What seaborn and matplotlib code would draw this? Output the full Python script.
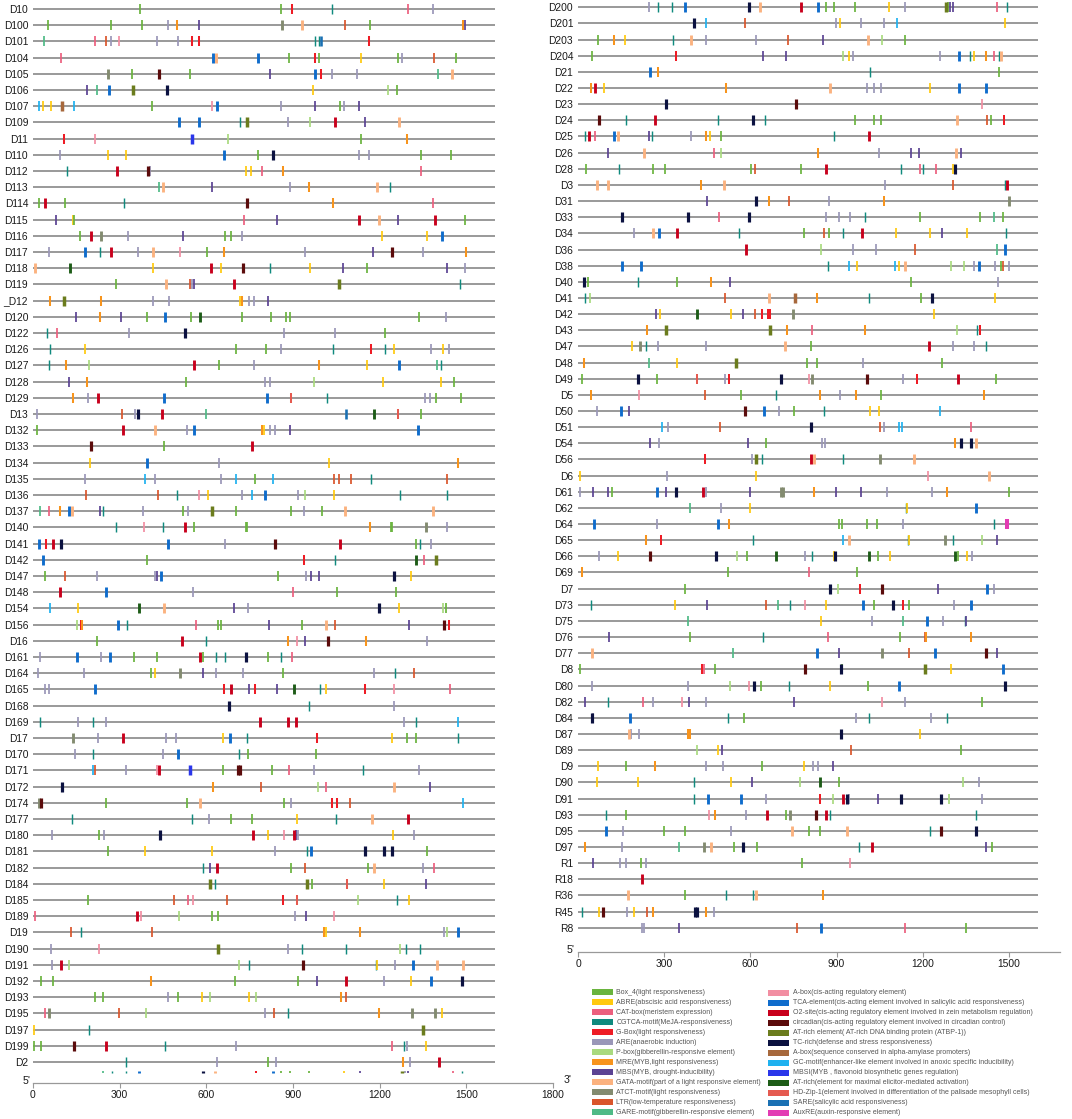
import numpy as np
import pandas as pd
import seaborn as sns
import matplotlib.pyplot as plt
from matplotlib.patches import Rectangle

# cis-element types (legend order: first 13 left column, rest right column)
motif_codes = ["B4", "ABRE", "CAT", "CGT", "GB", "ARE", "PB", "MRE", "MBS", "GATA", "ATCT", "LTR", "GARE",
               "AB1", "TCA", "O2", "CIRC", "ATRE", "TC", "AB2", "GC", "MBSI", "ATR", "HD", "SARE", "AUX"]
motif_names = [
    "Box_4(light responsiveness)",
    "ABRE(abscisic acid responsiveness)",
    "CAT-box(meristem expression)",
    "CGTCA-motif(MeJA-responsiveness)",
    "G-Box(light responsiveness)",
    "ARE(anaerobic induction)",
    "P-box(gibberellin-responsive element)",
    "MRE(MYB,light responsiveness)",
    "MBS(MYB, drought-inducibility)",
    "GATA-motif(part of a light responsive element)",
    "ATCT-motif(light responsiveness)",
    "LTR(low-temperature responsiveness)",
    "GARE-motif(gibberellin-responsive element)",
    "A-box(cis-acting regulatory element)",
    "TCA-element(cis-acting element involved in salicylic acid responsiveness)",
    "O2-site(cis-acting regulatory element involved in zein metabolism regulation)",
    "circadian(cis-acting regulatory element involved in circadian control)",
    "AT-rich element( AT-rich DNA binding protein (ATBP-1))",
    "TC-rich(defense and stress responsiveness)",
    "A-box(sequence conserved in alpha-amylase promoters)",
    "GC-motif(enhancer-like element involved in anoxic specific inducibility)",
    "MBSI(MYB , flavonoid biosynthetic genes regulation)",
    "AT-rich(element for maximal elicitor-mediated activation)",
    "HD-Zip-1(element involved in differentiation of the palisade mesophyll cells)",
    "SARE(salicylic acid responsiveness)",
    "AuxRE(auxin-responsive element)",
]
motif_colors = ["#6ab43e", "#ffc90e", "#ec5f7e", "#0f8a7e", "#ee1c25", "#9a97b8", "#a9da7f", "#f7941d",
                "#5b4393", "#fbb27f", "#838b70", "#d9552b", "#4fba86", "#f28ea2", "#0f6ccc", "#c8001c",
                "#5b0b0b", "#6b7c1d", "#0b1140", "#a7683c", "#1fb1ef", "#2a36ea", "#1d5c17", "#e55a50",
                "#1a70b3", "#e33bb3"]

left_genes = ["D10", "D100", "D101", "D104", "D105", "D106", "D107", "D109", "D11", "D110", "D112", "D113",
              "D114", "D115", "D116", "D117", "D118", "D119", "_D12", "D120", "D122", "D126", "D127", "D128",
              "D129", "D13", "D132", "D133", "D134", "D135", "D136", "D137", "D140", "D141", "D142", "D147",
              "D148", "D154", "D156", "D16", "D161", "D164", "D165", "D168", "D169", "D17", "D170", "D171",
              "D172", "D174", "D177", "D180", "D181", "D182", "D184", "D185", "D189", "D19", "D190", "D191",
              "D192", "D193", "D195", "D197", "D199", "D2"]
left_sites = [
    "372 B4 857 B4 896 GB 1036 CGT 1297 CAT 1383 ARE",
    "51 B4 270 B4 379 B4 469 ARE 499 MRE 574 MBS 863 ATCT 932 GATA 1080 LTR 1165 B4 1487 MRE 1494 MBS",
    "38 GARE 213 CAT 253 LTR 269 ARE 298 AB1 430 ARE 503 ARE 550 GB 574 GB 977 CGT 991 CGT 996 SARE 1163 GB",
    "97 CAT 623 TCA 633 GATA 779 TCA 887 B4 976 GB 989 B4 1135 ABRE 1263 B4 1277 ARE 1389 LTR 1465 B4",
    "258 ATCT 343 B4 437 CIRC 543 B4 819 MBS 976 TCA 996 GB 1036 ARE 1121 ARE 1403 GARE 1450 GATA",
    "187 MBS 220 GARE 262 TCA 347 ATRE 465 TC 968 ABRE 1230 PB 1259 B4",
    "22 GC 34 ABRE 62 ABRE 99 AB2 143 GC 413 B4 620 AB1 638 TCA 860 ARE 975 MBS 1062 B4 1077 ARE 1127 MBS",
    "506 TCA 576 TCA 717 CGT 740 ATRE 881 ARE 960 PB 1045 O2 1148 MBS 1268 GATA",
    "109 GB 213 AB1 552 MBSI 675 PB 1135 B4 1295 MRE",
    "93 ARE 260 ABRE 321 ABRE 661 TCA 779 B4 832 TC 1127 ARE 1164 ARE 1344 B4 1447 B4",
    "116 CGT 291 O2 397 CIRC 404 ARE 738 ABRE 753 ABRE 791 CAT 867 MRE 1343 CAT",
    "436 GARE 450 GATA 620 MBS 888 ARE 955 MRE 1192 GATA 1235 CGT",
    "22 B4 41 O2 110 B4 315 CGT 741 CIRC 1037 MRE 1386 CAT",
    "78 MBS 139 ABRE 143 B4 729 CAT 846 MBS 1130 O2 1196 GATA 1265 MBS 1392 O2 1495 B4",
    "163 B4 200 O2 237 ATCT 329 ARE 519 MBS 663 B4 684 B4 722 ARE 1209 ABRE 1365 ABRE 1417 TCA",
    "56 ARE 180 TCA 231 CGT 269 O2 363 ARE 417 GATA 509 AB1 603 B4 660 MRE 942 ARE 1178 MBS 1243 CIRC 1351 ARE 1498 MRE",
    "7 GATA 128 ATR 416 ABRE 616 O2 651 ABRE 728 CIRC 819 CGT 959 ABRE 1074 MBS 1156 B4 1434 MBS 1495 ARE",
    "288 B4 460 GATA 544 LTR 550 ARE 557 MBS 697 O2 1060 ATRE 1478 CGT",
    "60 MRE 109 ATRE 235 MRE 416 ARE 472 ARE 715 ABRE 724 MRE 747 ARE 764 ARE 815 MBS",
    "148 MBS 231 MRE 305 MBS 394 B4 458 TCA 547 B4 578 ATR 722 B4 823 B4 876 B4 888 B4 1336 B4 1428 ARE",
    "48 CGT 82 CAT 332 ARE 525 TC 868 ARE 1047 ARE 1220 B4",
    "60 CGT 180 ABRE 704 B4 805 B4 859 ARE 1037 CGT 1169 GB 1218 CGT 1251 ABRE 1376 ARE 1420 ABRE 1440 ARE",
    "54 CGT 115 MRE 193 PB 558 O2 643 B4 766 ARE 991 MRE 1155 ABRE 1266 TCA 1397 GARE 1413 CGT",
    "123 MBS 187 MRE 530 B4 804 ARE 819 ARE 971 PB 1213 ABRE 1412 ABRE 1458 B4",
    "139 MRE 189 ARE 226 O2 453 TCA 809 TCA 892 HD 1017 CGT 1356 ARE 1374 ARE 1396 B4 1480 B4",
    "15 ARE 307 LTR 352 ARE 363 TC 448 O2 598 GARE 1082 SARE 1182 ATR 1264 HD 1344 B4",
    "13 B4 312 O2 422 GATA 532 ARE 556 TCA 791 MRE 798 ABRE 821 ARE 836 ARE 888 MBS 1333 TCA",
    "202 CIRC 452 B4 757 O2",
    "199 ABRE 395 TCA 644 ARE 1024 ABRE 1472 MRE",
    "179 ARE 386 GC 424 ARE 650 ARE 702 GC 767 B4 830 GC 1041 LTR 1060 LTR 1102 LTR 1169 CGT 1433 LTR",
    "184 LTR 432 LTR 498 CGT 574 AB1 607 ABRE 722 ARE 757 GC 804 TCA 917 ARE 940 PB 1043 ABRE 1271 CGT 1432 CGT",
    "23 GARE 55 CAT 92 MRE 126 TCA 136 GATA 233 MBS 241 CGT 381 ARE 520 B4 537 ARE 621 ATRE 702 B4 894 B4 939 ARE 1000 B4 1081 GATA 1386 GATA",
    "289 CGT 383 AB1 451 CGT 525 O2 557 B4 736 B4 741 B4 1168 MRE 1239 B4 1244 B4 1360 ATCT 1433 ARE",
    "22 TCA 45 GB 68 O2 96 TC 469 TCA 665 ARE 838 CIRC 1063 O2 1326 B4 1341 CGT 1377 ARE",
    "34 TCA 395 B4 937 GB 1047 CGT 1326 ATR 1354 CAT 1396 ATRE",
    "43 B4 110 LTR 221 ARE 423 ARE 428 MBS 442 TCA 847 B4 946 ARE 963 MBS 990 MBS 1250 TC 1309 ABRE",
    "92 O2 251 TCA 554 ARE 901 CAT 1054 B4 1255 B4",
    "59 GC 156 ABRE 367 ATR 455 GATA 695 MBS 744 ARE 1197 TC 1268 ABRE 1420 PB 1430 B4",
    "154 PB 166 GB 170 MRE 294 TCA 325 CGT 564 CAT 640 B4 651 B4 818 MBS 932 B4 1013 GATA 1047 LTR 1303 MBS 1424 CIRC 1439 GB",
    "223 B4 517 O2 598 CGT 882 MRE 914 AB1 941 MBS 1022 CIRC 1151 MRE 1364 ARE",
    "23 ARE 153 TCA 235 ARE 265 TCA 350 B4 428 B4 579 O2 590 B4 632 CGT 664 CGT 739 TC 814 B4 859 CGT 897 CAT",
    "19 ARE 177 ARE 408 B4 422 ABRE 510 ATCT 590 MBS 632 ARE 727 ARE 865 B4 1181 ARE 1252 CGT 1318 LTR",
    "40 ARE 55 ARE 214 TCA 661 GB 684 O2 748 MBS 768 GB 846 MBS 905 ATR 993 CGT 1013 ABRE 1148 GB 1249 AB1 1445 CAT",
    "680 TC 956 CGT 1250 ARE",
    "25 CGT 155 ARE 209 CGT 251 ARE 787 O2 882 O2 912 O2 1285 ARE 1325 CGT 1471 GC",
    "137 ATCT 226 ARE 312 O2 462 ARE 496 ARE 659 ABRE 681 TCA 741 CGT 983 GB 1242 ABRE 1293 B4 1325 B4 1470 CGT",
    "146 ARE 209 CGT 450 ARE 503 TCA 714 CGT 745 B4 980 B4",
    "209 GC 213 LTR 322 ARE 428 AB1 437 O2 543 MBSI 657 B4 708 CIRC 716 CIRC 829 B4 886 CAT 974 ARE 1143 CGT 1336 ARE",
    "99 TC 623 MRE 788 LTR 987 PB 1015 CAT 1251 GATA 1374 MBS",
    "21 ATCT 26 CIRC 254 B4 533 B4 577 GATA 869 B4 892 ARE 1034 GB 1054 GB 1097 LTR 1488 GC",
    "135 CGT 550 CGT 610 ARE 687 B4 759 B4 914 ABRE 1049 CGT 1174 GATA 1299 O2",
    "66 ARE 229 B4 247 ARE 438 TC 761 O2 812 ABRE 869 AB1 905 O2 912 MBS 919 ARE 1245 ABRE 1318 ARE",
    "261 B4 386 ABRE 620 ABRE 836 ARE 949 CGT 964 TCA 1149 TC 1215 TC 1242 TC 1363 B4",
    "587 CGT 612 MBS 636 O2 894 B4 941 LTR 1161 B4 1181 GATA 1350 ARE 1389 CAT",
    "614 ATRE 631 CGT 950 ATRE 966 B4 1087 HD 1216 ABRE 1361 MBS",
    "190 B4 489 LTR 538 CAT 553 AB1 671 LTR 866 GB 913 HD 1124 PB 1259 CGT 1303 ABRE",
    "7 CAT 359 O2 374 AB1 505 PB 621 B4 641 B4 908 ARE 946 MBS 1041 AB1",
    "132 LTR 166 CGT 413 LTR 1008 MRE 1013 ABRE 1132 MRE 1424 ARE 1433 PB 1471 TCA",
    "62 ARE 228 AB1 639 ATRE 882 ARE 932 CGT 1085 CGT 1272 PB 1291 CGT 1338 CGT",
    "66 ARE 97 O2 123 PB 714 PB 747 CGT 935 CIRC 1188 CGT 1192 ABRE 1253 ARE 1314 TCA 1398 GATA 1487 GATA",
    "26 B4 70 B4 409 MRE 698 B4 917 B4 984 MBS 1085 O2 1215 ARE 1307 ABRE 1379 TCA 1486 TC",
    "215 B4 242 B4 468 ARE 502 B4 586 ABRE 611 PB 747 ABRE 772 PB 1065 MRE 1082 LTR",
    "41 CAT 55 ATCT 296 LTR 392 PB 804 ARE 835 LTR 881 CGT 1198 MRE 1311 ATCT 1392 ATCT 1417 ABRE",
    "4 ABRE 195 CGT 1351 ATRE",
    "4 B4 27 B4 143 CIRC 254 O2 458 CGT 702 ARE 1242 CAT 1285 CGT 1296 ARE 1360 ABRE",
    "323 CGT 638 ARE 815 B4 842 ARE 1280 MRE 1304 ARE 1406 O2",
]
# squashed, unlabelled row under D2
stray_sites = ("243 GARE 274 CGT 323 CGT 366 TCA 590 TC 630 GATA 773 GB 832 TCA 858 B4 888 B4 957 B4 "
               "1078 ABRE 1131 MBS 1277 ATRE 1286 ARE 1298 MBS 1455 CAT 1486 CGT")

right_genes = ["D200", "D201", "D203", "D204", "D21", "D22", "D23", "D24", "D25", "D26", "D28", "D3", "D31",
               "D33", "D34", "D36", "D38", "D40", "D41", "D42", "D43", "D47", "D48", "D49", "D5", "D50", "D51",
               "D54", "D56", "D6", "D61", "D62", "D64", "D65", "D66", "D69", "D7", "D73", "D75", "D76", "D77",
               "D8", "D80", "D82", "D84", "D87", "D89", "D9", "D90", "D91", "D93", "D95", "D97", "R1", "R18",
               "R36", "R45", "R8"]
right_sites = [
    "247 ARE 277 CGT 327 CGT 372 TCA 594 TC 633 GATA 778 O2 836 TCA 863 B4 892 B4 964 B4 1082 ABRE 1138 ARE 1281 ATRE 1289 B4 1296 MBS 1305 MBS 1460 CAT 1492 CGT",
    "405 TC 447 GC 581 LTR 898 ARE 911 ABRE 986 ARE 1064 ARE 1112 GC 1485 ABRE",
    "68 B4 124 MRE 164 ABRE 331 CGT 393 GATA 444 ARE 619 ARE 732 LTR 854 MBS 1009 GATA 1059 PB 1138 B4",
    "49 B4 341 GB 645 MBS 725 MBS 921 PB 945 ABRE 959 ARE 1261 ARE 1327 TCA 1364 CGT 1380 ABRE 1422 MRE 1449 CAT 1465 CGT 1472 GATA",
    "252 TCA 277 MRE 1015 CGT 1467 B4",
    "46 MRE 58 O2 89 ABRE 516 MRE 879 GATA 1007 ARE 1030 ARE 1054 ARE 1226 ABRE 1325 TCA 1422 TCA",
    "305 TC 760 CIRC 1407 AB1",
    "73 CIRC 168 CGT 269 O2 486 CGT 610 TC 651 CGT 966 B4 1029 B4 1054 B4 1319 GATA 1423 LTR 1437 B4 1484 GB",
    "26 CGT 37 O2 58 CAT 126 TCA 138 GATA 246 MBS 256 CGT 393 ARE 445 MRE 458 ABRE 499 B4 890 CGT 1012 O2",
    "104 MBS 229 GATA 472 CAT 499 PB 836 MRE 1049 ARE 1161 MBS 1187 MBS 1317 GATA 1335 MBS",
    "27 B4 144 CGT 260 B4 304 B4 602 B4 616 LTR 776 B4 862 O2 1123 CGT 1189 CAT 1201 CGT 1247 CAT 1306 ABRE 1312 TC",
    "65 GATA 103 GATA 429 MRE 508 GATA 1070 ARE 1304 LTR 1486 CGT 1492 O2",
    "448 MBS 619 TC 666 MRE 734 LTR 873 ARE 1065 MRE 1502 ATCT",
    "154 TC 383 TC 491 CAT 595 TC 865 ARE 908 ARE 947 ARE 998 CGT 1191 B4 1401 B4 1447 GARE 1478 B4",
    "196 ARE 261 GATA 281 TCA 346 O2 559 CGT 786 B4 858 LTR 875 B4 921 CGT 989 O2 1108 ABRE 1224 ABRE 1267 MBS 1354 ABRE 1489 CGT",
    "586 O2 847 PB 957 ARE 1038 ARE 1173 LTR 1457 GARE 1488 TCA",
    "153 TCA 219 TCA 870 CGT 945 GC 972 ABRE 1104 GC 1118 ABRE 1139 GATA 1297 PB 1343 PB 1380 ARE 1397 TCA 1450 ARE 1473 B4 1479 LTR 1500 ARE",
    "20 TC 35 B4 208 CGT 343 B4 464 MRE 530 MBS 1161 B4 1462 ARE",
    "24 CGT 42 PB 512 LTR 664 GATA 754 AB2 833 MRE 1013 CGT 1194 B4 1232 TC 1450 ABRE",
    "273 MBS 285 ABRE 415 ATR 532 ABRE 574 MBS 615 LTR 639 GB 660 GB 669 GB 749 ATCT 1240 ABRE",
    "239 MRE 306 ATRE 668 ATRE 728 MRE 815 CAT 998 MRE 1320 PB 1389 CGT 1398 GB",
    "187 ABRE 217 ATCT 235 CGT 278 ARE 447 ARE 719 GATA 810 B4 1221 O2 1304 ARE 1377 ARE 1422 CGT",
    "21 MRE 246 GARE 343 ABRE 550 ATRE 797 B4 831 B4 993 ARE 1266 B4",
    "13 B4 210 TC 275 B4 415 HD 512 ARE 527 GB 708 TC 804 AB1 816 ATCT 1007 CIRC 1131 ARE 1180 GB 1322 O2 1455 B4",
    "45 MRE 213 AB1 442 LTR 566 B4 690 CGT 841 MRE 913 ARE 969 MRE 1056 B4 1412 MRE",
    "65 ARE 151 TCA 176 MBS 581 CIRC 647 TCA 699 ARE 753 B4 858 CGT 1018 ABRE 1049 ABRE 1261 GC",
    "291 GC 313 ARE 493 LTR 810 TC 1050 LTR 1064 ARE 1117 GC 1129 GC 1368 CAT",
    "251 MBS 282 ARE 592 MBS 654 B4 851 ARE 859 ARE 1314 MRE 1332 TC 1369 TC 1384 GATA",
    "441 GB 607 ARE 621 ATRE 641 CGT 810 O2 820 GATA 921 CGT 1052 ATCT 1169 GATA",
    "7 ABRE 311 ARE 621 ABRE 1220 AB1 1430 GATA",
    "6 ARE 52 MBS 106 MBS 118 B4 276 TCA 305 MBS 342 TC 435 O2 447 ARE 599 MBS 707 ATCT 715 ATCT 822 MRE 897 MBS 984 MBS 1075 ARE 1231 ARE 1284 MRE 1499 B4",
    "389 GARE 498 ARE 599 ABRE 1142 CGT 1146 ABRE 1385 TCA",
    "57 TCA 275 ARE 488 TCA 525 MRE 907 B4 920 B4 1005 B4 1042 B4 1131 ARE 1449 CGT 1494 AUX",
    "238 MRE 289 GB 608 CGT 922 GC 944 GATA 1149 CGT 1153 ABRE 1279 ATCT 1306 CGT 1407 PB 1457 MBS",
    "73 ARE 140 ABRE 249 CIRC 480 TC 553 PB 589 B4 688 ATR 790 ARE 815 CGT 890 ABRE 896 TC 1013 ATR 1043 B4 1086 ABRE 1314 ATR 1324 B4 1353 ABRE 1372 ARE",
    "15 MRE 521 B4 804 CAT 971 B4",
    "371 B4 879 TC 905 PB 980 GB 1058 CIRC 1255 MBS 1423 TCA 1448 ARE",
    "46 CGT 339 ABRE 449 MBS 653 LTR 696 GARE 738 CGT 789 AB1 862 ABRE 992 TCA 1029 B4 1097 TC 1131 GB 1152 B4 1308 ARE 1368 TCA",
    "383 GARE 846 ABRE 1024 ARE 1132 GARE 1215 TCA 1271 ARE 1346 CGT 1350 MBS",
    "107 MBS 390 B4 643 CGT 869 CAT 1121 B4 1209 LTR 1213 MRE 1369 MRE",
    "49 GATA 541 GARE 833 TCA 909 MBS 1058 ATCT 1154 LTR 1242 TCA 1419 CIRC 1458 MBS",
    "8 B4 433 GB 438 CAT 476 B4 791 CIRC 916 TC 920 B4 1208 ATRE 1300 ABRE 1478 TCA",
    "48 ARE 384 ARE 528 PB 597 AB1 614 TC 638 B4 734 CGT 878 ABRE 1009 B4 1119 TCA 1488 TC",
    "24 MBS 104 CGT 225 CAT 262 ARE 363 AB1 386 MBS 445 ARE 753 MBS 1057 AB1 1138 ARE 1408 B4",
    "48 TC 53 ARE 180 TCA 521 CGT 578 B4 967 ARE 1012 CGT 1230 ARE 1285 CGT",
    "178 GATA 183 ARE 211 ARE 383 MRE 391 MRE 915 TC 1192 ABRE",
    "414 PB 488 ABRE 503 MBS 951 LTR 1334 B4",
    "68 ABRE 166 B4 267 MRE 447 ARE 506 ARE 641 B4 788 ABRE 819 ARE 836 ARE 887 MBS",
    "66 ABRE 208 ABRE 403 CGT 531 ABRE 606 MBS 773 PB 842 ATR 908 B4 1339 PB 1395 ARE",
    "403 CGT 454 TCA 566 TCA 653 ARE 843 GB 889 PB 922 O2 938 TC 943 ARE 1043 MBS 1123 TC 1262 TC 1291 PB 1407 ARE",
    "99 CGT 167 B4 455 AB1 476 MRE 586 ARE 659 O2 725 B4 738 ATCT 828 CIRC 862 O2 876 CGT 1384 CGT",
    "99 TCA 157 ARE 299 B4 372 B4 532 ARE 746 GATA 805 B4 844 B4 935 GATA 1227 CGT 1262 CIRC 1384 TC",
    "24 MRE 153 ARE 351 GARE 438 ATCT 463 GATA 544 B4 574 TC 623 B4 979 CGT 1022 O2 1419 MBS 1443 B4",
    "53 MBS 146 ARE 166 ARE 218 B4 238 ARE 780 B4 947 AB1",
    "222 O2",
    "173 GATA 371 B4 515 CGT 610 CGT 618 GATA 854 MRE",
    "13 CGT 72 ABRE 87 CIRC 172 ARE 195 ABRE 240 LTR 262 MRE 409 TC 415 TC 447 MRE 473 ARE",
    "223 ARE 230 ARE 350 MBS 761 LTR 845 TCA 1138 CAT 1351 B4",
]

gene_length = 1600
left_ticks = [0, 300, 600, 900, 1200, 1500, 1800]
right_ticks = [0, 300, 600, 900, 1200, 1500]

# ---- style ----
W, H = 1072, 1119
LINE = "#8c8c8c"
# drawn thickness of each element type (bp)
motif_bp = {"B4": 6, "ABRE": 6, "CAT": 6, "CGT": 5, "GB": 7, "ARE": 6, "PB": 6, "MRE": 7, "MBS": 6,
            "GATA": 10, "ATCT": 10, "LTR": 6, "GARE": 6, "AB1": 6, "TCA": 10, "O2": 10, "CIRC": 11,
            "ATRE": 12, "TC": 11, "AB2": 12, "GC": 6, "MBSI": 12, "ATR": 10, "HD": 7, "SARE": 9, "AUX": 14}
palette = dict(zip(motif_codes, motif_colors))

sns.set_theme(style="white")
plt.rcParams["font.family"] = ["Liberation Sans", "DejaVu Sans"]


def to_frame(genes, sites):
    recs = []
    for i, s in enumerate(sites):
        tok = s.split()
        for p, m in zip(tok[::2], tok[1::2]):
            recs.append((i, float(p), m))
    return pd.DataFrame(recs, columns=["row", "pos", "motif"])


def draw_marks(ax, df, px_per_bp, size):
    df = df.copy()
    df["lw"] = df["motif"].map(motif_bp) * px_per_bp * 72 / 100
    for lw, part in df.groupby("lw"):
        sns.scatterplot(data=part, x="pos", y="row", hue="motif", palette=palette, marker="|",
                        s=size, linewidth=lw, legend=False, ax=ax, zorder=3)
    ax.set(xlabel="", ylabel="")


def draw_panel(ax, genes, sites, xmax, ticks, ylim, px_per_bp):
    n = len(genes)
    ax.hlines(np.arange(n), 0, gene_length, color=LINE, lw=1.25, zorder=1)
    draw_marks(ax, to_frame(genes, sites), px_per_bp, 52)
    ax.set_xlim(0, xmax)
    ax.set_ylim(*ylim)
    ax.set_xticks(ticks)
    ax.set_yticks(np.arange(n), labels=genes)
    ax.tick_params(axis="y", length=0, pad=3.5, labelsize=7.4, labelcolor="#1a1a1a")
    ax.tick_params(axis="x", length=3.5, width=0.8, color="#999999", pad=1.5,
                   labelsize=7.4, labelcolor="#1a1a1a", bottom=True)
    sns.despine(ax=ax, left=True)
    ax.spines["bottom"].set_color("#999999")
    ax.spines["bottom"].set_linewidth(0.9)
    ax.patch.set_alpha(0)


fig = plt.figure(figsize=(W / 100, H / 100), dpi=100)

# left panel: x 0..1800 -> px 33..553, rows from px 0 to spine at 1083
axL = fig.add_axes([33 / W, (H - 1083) / H, 520 / W, 1083 / H])
draw_panel(axL, left_genes, left_sites, 1800, left_ticks, (66.3, -0.55), 520 / 1800)
stray = to_frame(["-"], [stray_sites])
stray["row"] = 65.62
draw_marks(axL, stray, 520 / 1800, 3)
axL.set_xlim(0, 1800)
axL.set_ylim(66.3, -0.55)

# right panel: x 0..1678 -> px 578..1060, spine at 952
axR = fig.add_axes([578 / W, (H - 952) / H, 482 / W, 952 / H])
draw_panel(axR, right_genes, right_sites, 1678, right_ticks, (58.5, -0.45), 482 / 1678)

# overlay in pixel units for 5'/3' labels and the legend
ov = fig.add_axes([0, 0, 1, 1])
ov.set_xlim(0, W)
ov.set_ylim(H, 0)
ov.axis("off")
ov.text(31, 1081, "5'", ha="right", va="center", fontsize=7.6, color="#1a1a1a")
ov.text(564, 1080, "3'", ha="left", va="center", fontsize=7.6, color="#1a1a1a")
ov.text(575, 950, "5'", ha="right", va="center", fontsize=7.6, color="#1a1a1a")

for k, (name, col) in enumerate(zip(motif_names, motif_colors)):
    if k < 13:
        x0, y0 = 591.5, 992 + 10 * k
    else:
        x0, y0 = 768, 993 + 10 * (k - 13)
    ov.add_patch(Rectangle((x0, y0 - 3), 21, 6, color=col, lw=0))
    ov.text(x0 + 25, y0, name, ha="left", va="center", fontsize=5.0, color="#555555")

fig.savefig("out.png", dpi=100)
